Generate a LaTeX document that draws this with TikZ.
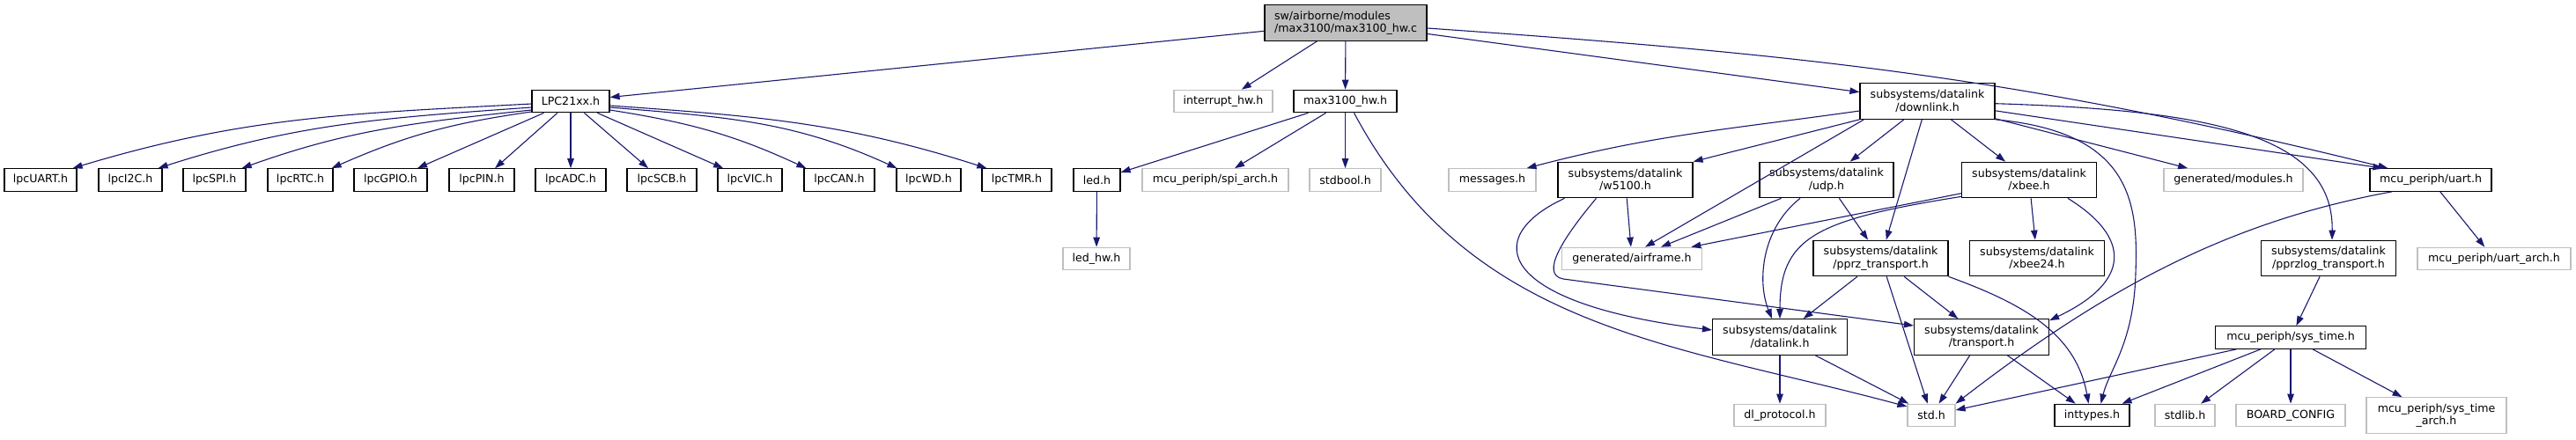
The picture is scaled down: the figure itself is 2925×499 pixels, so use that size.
\documentclass[tikz,border=0pt]{standalone}
\usepackage{fontspec}
\setmainfont{DejaVu Sans}
\usepackage{tikz}
\usetikzlibrary{arrows.meta}
\definecolor{cEdge}{RGB}{25,25,112}
\definecolor{cGrey}{RGB}{191,191,191}
\tikzset{
	hdr/.style    ={rectangle, draw=black, line width=1.2pt, minimum height=25.5pt, inner sep=0pt, align=center, fill=white},
	twoline/.style={minimum height=40.5pt},
	exthdr/.style ={hdr, draw=cGrey},
	srcfile/.style={hdr, twoline, fill=cGrey, align=left},
	% include edges
	dep/.style    ={-{Triangle[length=11pt, width=7.5pt]}, cEdge, line width=1.1pt},
}

\begin{document}
\begin{tikzpicture}[x=1pt, y=-1pt, every node/.style={font=\fontsize{12.6pt}{14.5pt}\selectfont}]
	\path[fill=white, use as bounding box] (0,0) rectangle (2925,499);
	% rows 0 and 1
	\node[srcfile, minimum width=184pt] (top) at (1528,26) {sw/airborne/modules\\/max3100/max3100\_hw.c};
	\node[hdr, minimum width=88pt] (lpc) at (648,115) {LPC21xx.h};
	\node[exthdr, minimum width=112pt] (intr) at (1389,115) {interrupt\_hw.h};
	\node[hdr, minimum width=117pt] (maxhw) at (1527.5,115) {max3100\_hw.h};
	\node[hdr, twoline, minimum width=153pt] (downlink) at (2188.5,115) {subsystems/datalink\\/downlink.h};
	% row 2
	\node[hdr, minimum width=82pt] (lpcuart) at (46,204.5) {lpcUART.h};
	\node[hdr, minimum width=72pt] (lpci2c) at (148,204.5) {lpcI2C.h};
	\node[hdr, minimum width=71pt] (lpcspi) at (243.5,204.5) {lpcSPI.h};
	\node[hdr, minimum width=74pt] (lpcrtc) at (341,204.5) {lpcRTC.h};
	\node[hdr, minimum width=83pt] (lpcgpio) at (443.5,204.5) {lpcGPIO.h};
	\node[hdr, minimum width=74pt] (lpcpin) at (547,204.5) {lpcPIN.h};
	\node[hdr, minimum width=80pt] (lpcadc) at (648,204.5) {lpcADC.h};
	\node[hdr, minimum width=79pt] (lpcscb) at (751.5,204.5) {lpcSCB.h};
	\node[hdr, minimum width=73pt] (lpcvic) at (851.5,204.5) {lpcVIC.h};
	\node[hdr, minimum width=80pt] (lpccan) at (953,204.5) {lpcCAN.h};
	\node[hdr, minimum width=73pt] (lpcwd) at (1054.5,204.5) {lpcWD.h};
	\node[hdr, minimum width=79pt] (lpctmr) at (1154.5,204.5) {lpcTMR.h};
	\node[hdr, minimum width=53pt] (led) at (1245.5,204.5) {led.h};
	\node[exthdr, minimum width=166pt] (spiarch) at (1380,204.5) {mcu\_periph/spi\_arch.h};
	\node[exthdr, minimum width=81pt] (stdbool) at (1527.5,204.5) {stdbool.h};
	\node[exthdr, minimum width=99pt] (messages) at (1694.5,204.5) {messages.h};
	\node[hdr, twoline, minimum width=153pt] (w5100) at (1845.5,204.5) {subsystems/datalink\\/w5100.h};
	\node[hdr, twoline, minimum width=152pt] (udp) at (2074,204.5) {subsystems/datalink\\/udp.h};
	\node[hdr, twoline, minimum width=153pt] (xbee) at (2304,204.5) {subsystems/datalink\\/xbee.h};
	\node[exthdr, minimum width=158pt] (modules) at (2536,204.5) {generated/modules.h};
	\node[hdr, minimum width=138pt] (uart) at (2760,204.5) {mcu\_periph/uart.h};
	% row 3
	\node[exthdr, minimum width=76pt] (ledhw) at (1245,294) {led\_hw.h};
	\node[exthdr, minimum width=159pt] (airframe) at (1853,294) {generated/airframe.h};
	\node[hdr, twoline, minimum width=153pt] (pprz) at (2135.5,293.5) {subsystems/datalink\\/pprz\_transport.h};
	\node[hdr, twoline, minimum width=153pt] (xbee24) at (2313,293.5) {subsystems/datalink\\/xbee24.h};
	\node[hdr, twoline, minimum width=153pt] (pprzlog) at (2644,293.5) {subsystems/datalink\\/pprzlog\_transport.h};
	\node[exthdr, minimum width=174pt] (uartarch) at (2832,294) {mcu\_periph/uart\_arch.h};
	% row 4
	\node[hdr, twoline, minimum width=153pt] (datalink) at (2021,383) {subsystems/datalink\\/datalink.h};
	\node[hdr, twoline, minimum width=153pt] (transport) at (2250,383) {subsystems/datalink\\/transport.h};
	\node[hdr, minimum width=171pt] (systime) at (2601,383.5) {mcu\_periph/sys\_time.h};
	% row 5
	\node[exthdr, minimum width=104pt] (dlproto) at (2021,472) {dl\_protocol.h};
	\node[exthdr, minimum width=54pt] (stdh) at (2193,472) {std.h};
	\node[hdr, minimum width=85pt] (inttypes) at (2375.5,472) {inttypes.h};
	\node[exthdr, minimum width=68pt] (stdlib) at (2481,472) {stdlib.h};
	\node[exthdr, minimum width=124pt] (boardcfg) at (2601,472) {BOARD\_CONFIG};
	\node[exthdr, twoline, minimum width=159pt] (systimearch) at (2766.5,472) {mcu\_periph/sys\_time\\\_arch.h};

	% max3100_hw.c
	\draw[dep] (top) -- (lpc);
	\draw[dep] (top) -- (intr);
	\draw[dep] (top) -- (maxhw);
	\draw[dep] (top) -- (downlink);
	\draw[dep] ([yshift=-6pt]top.east) .. controls (2051,62) and (2293,87.5) .. ([xshift=21pt]uart.north west);
	% LPC21xx.h
	\draw[dep] ([yshift=-3pt]lpc.west) .. controls (398,129) and (279,132) .. ([xshift=-5pt]lpcuart.north east);
	\draw[dep] ([yshift=-7pt]lpc.west) .. controls (436,134) and (339,140) .. ([xshift=-5pt]lpci2c.north east);
	\draw[dep] ([yshift=-10pt]lpc.west) .. controls (473,139) and (398,147) .. ([xshift=-5pt]lpcspi.north east);
	\draw[dep] ([yshift=-12pt]lpc.west) .. controls (512,140) and (461,154) .. ([xshift=-2pt]lpcrtc.north east);
	\draw[dep] (lpc) -- (lpcgpio);
	\draw[dep] (lpc) -- (lpcpin);
	\draw[dep] (lpc) -- (lpcadc);
	\draw[dep] (lpc) -- (lpcscb);
	\draw[dep] (lpc) -- (lpcvic);
	\draw[dep] ([yshift=-10pt]lpc.east) .. controls (782,139) and (833,153) .. ([xshift=3pt]lpccan.north west);
	\draw[dep] ([yshift=-7pt]lpc.east) .. controls (822.5,133) and (900,137) .. ([xshift=1pt]lpcwd.north west);
	\draw[dep] ([yshift=-5pt]lpc.east) .. controls (862,132) and (959,139.5) .. ([xshift=6pt]lpctmr.north west);
	% max3100_hw.h
	\draw[dep] (maxhw) -- (led);
	\draw[dep] (maxhw) -- (spiarch);
	\draw[dep] (maxhw) -- (stdbool);
	\draw[dep] ([xshift=10pt]maxhw.south) .. controls (1668.5,374) and (1896.5,390) .. ([yshift=10pt]stdh.west);
	\draw[dep] (led) -- (ledhw);
	% downlink.h
	\draw[dep] ([yshift=-11pt]downlink.west) .. controls (1963,147) and (1878.5,153) .. ([xshift=39pt]messages.north);
	\draw[dep] (downlink.south west) -- (w5100.north east);
	\draw[dep] ([xshift=5pt]downlink.south west) -- ([xshift=15pt]airframe.north);
	\draw[dep] (downlink) -- (udp);
	\draw[dep] (downlink) -- (pprz);
	\draw[dep] (downlink) -- (xbee);
	\draw[dep] (downlink.south east) .. controls (2420,150) and (2428,230) .. (2425,310) .. controls (2423,390) and (2395,420) .. ([xshift=10pt]inttypes.north);
	\draw[dep] (downlink) -- (modules);
	\draw[dep] (downlink.-8) -- ([xshift=15pt]uart.north west);
	\draw[dep] (downlink.-2) .. controls (2500,125) and (2650,150) .. ([xshift=4pt]pprzlog.north);
	% w5100.h, udp.h, xbee.h
	\draw[dep] (w5100) -- (airframe);
	\draw[dep] ([xshift=-69pt]w5100.south) .. controls (1680,270) and (1700,345) .. ([yshift=8pt]datalink.west);
	\draw[dep] ([xshift=-33pt]w5100.south) .. controls (1775,270) and (1748,312) .. (1775,317) -- ([yshift=13pt]transport.west);
	\draw[dep] (udp) -- (airframe);
	\draw[dep] ([xshift=-30pt]udp.south) .. controls (2000,260) and (1995,320) .. ([xshift=-9pt]datalink.north);
	\draw[dep] (udp) -- (pprz);
	\draw[dep] (xbee) -- (airframe);
	\draw[dep] ([yshift=2pt]xbee.south west) .. controls (2060,250) and (2021,270) .. (datalink.north);
	\draw[dep] (xbee) -- (xbee24);
	\draw[dep] ([xshift=44pt]xbee.south) .. controls (2420,270) and (2420,320) .. ([yshift=-2pt]transport.north east);
	% pprz_transport.h
	\draw[dep] (pprz) -- (datalink);
	\draw[dep] (pprz) -- (stdh);
	\draw[dep] (pprz) -- (transport);
	\draw[dep] (pprz.south east) .. controls (2291,343) and (2357,376) .. ([xshift=-4pt]inttypes.north);
	% lower levels
	\draw[dep] (datalink) -- (dlproto);
	\draw[dep] (datalink) -- (stdh);
	\draw[dep] (transport) -- (stdh);
	\draw[dep] (transport) -- (inttypes);
	\draw[dep] ([xshift=-44pt]uart.south) .. controls (2540,250) and (2400,320) .. (stdh.north east);
	\draw[dep] (uart) -- (uartarch);
	\draw[dep] (pprzlog) -- (systime);
	\draw[dep] (systime) -- (stdh);
	\draw[dep] (systime) -- (inttypes);
	\draw[dep] (systime) -- (stdlib);
	\draw[dep] (systime) -- (boardcfg);
	\draw[dep] (systime) -- (systimearch);
\end{tikzpicture}
\end{document}
